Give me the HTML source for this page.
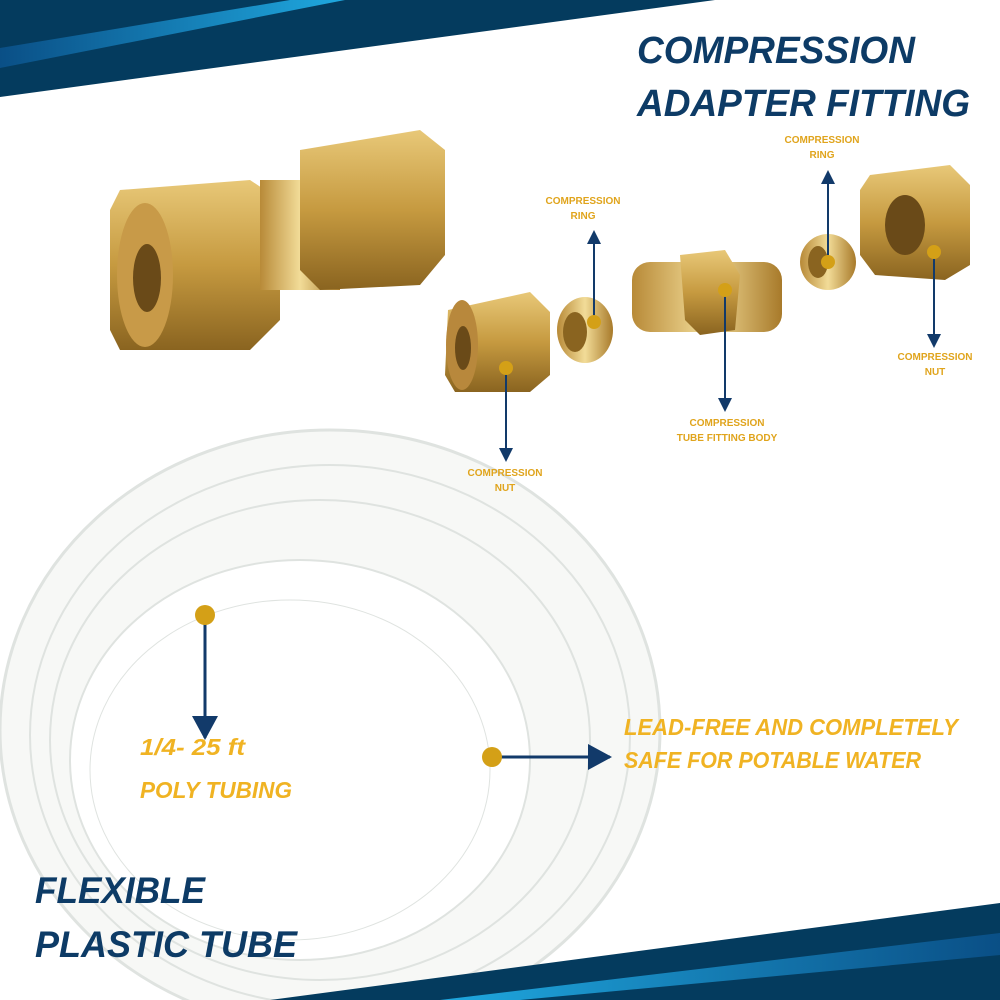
<!DOCTYPE html>
<html><head><meta charset="utf-8"><style>
html,body{margin:0;padding:0;background:#fff}
svg{display:block}
.t{font-family:"Liberation Sans",sans-serif;font-style:italic;font-weight:bold}
.s{font-family:"Liberation Sans",sans-serif;font-weight:bold;font-size:10px;fill:#e0a41c}
</style></head><body>
<svg width="1000" height="1000" viewBox="0 0 1000 1000" xmlns="http://www.w3.org/2000/svg">
<defs>
<linearGradient id="st" x1="0" x2="1" y1="0" y2="0"><stop offset="0" stop-color="#0a4f86"/><stop offset="1" stop-color="#1fa8df"/></linearGradient>
<linearGradient id="st2" x1="1" x2="0" y1="0" y2="0"><stop offset="0" stop-color="#0a4f86"/><stop offset="1" stop-color="#1fa8df"/></linearGradient>
<linearGradient id="br" x1="0" x2="0" y1="0" y2="1"><stop offset="0" stop-color="#e8c878"/><stop offset="0.5" stop-color="#c69a40"/><stop offset="1" stop-color="#8a6420"/></linearGradient>
<linearGradient id="br2" x1="0" x2="1" y1="0" y2="0"><stop offset="0" stop-color="#b88a38"/><stop offset="0.5" stop-color="#f2dc98"/><stop offset="1" stop-color="#a87a2a"/></linearGradient>
<marker id="ar" markerUnits="userSpaceOnUse" markerWidth="14" markerHeight="14" refX="12" refY="7" orient="auto"><path d="M0,0 L14,7 L0,14 z" fill="#123a6a"/></marker>
<marker id="ar2" markerUnits="userSpaceOnUse" markerWidth="24" markerHeight="26" refX="22" refY="13" orient="auto"><path d="M0,0 L24,13 L0,26 z" fill="#123a6a"/></marker>
</defs>
<polygon points="0,0 715,0 0,97" fill="#043b5e"/>
<polygon points="0,48 290,0 345,0 0,68" fill="url(#st)"/>
<g fill="none" stroke="#dfe3e0">
<ellipse cx="330" cy="730" rx="330" ry="300" fill="#f7f8f6" stroke-width="3"/>
<ellipse cx="330" cy="735" rx="300" ry="270" stroke-width="2"/>
<ellipse cx="320" cy="740" rx="270" ry="240" stroke-width="2"/>
<ellipse cx="300" cy="760" rx="230" ry="200" fill="#fff" stroke-width="2"/>
<ellipse cx="290" cy="770" rx="200" ry="170" fill="#fff" stroke-width="1"/>
</g>
<polygon points="1000,903 1000,1000 270,1000" fill="#043b5e"/>
<polygon points="1000,933 1000,955 520,1000 440,1000" fill="url(#st2)"/>
<g>
<polygon points="120,190 250,180 280,200 280,320 250,350 120,350 110,330 110,210" fill="url(#br)"/>
<ellipse cx="145" cy="275" rx="28" ry="72" fill="#c89a48"/>
<ellipse cx="147" cy="278" rx="14" ry="34" fill="#6a4a18"/>
<rect x="260" y="180" width="80" height="110" fill="url(#br2)"/>
<polygon points="300,150 420,130 445,150 445,255 420,285 320,290 300,270" fill="url(#br)"/>
</g>
<polygon points="448,310 530,292 550,312 550,375 530,392 455,392 445,375" fill="url(#br)"/>
<ellipse cx="462" cy="345" rx="16" ry="45" fill="#b8883c"/><ellipse cx="463" cy="348" rx="8" ry="22" fill="#6a4a18"/>
<ellipse cx="585" cy="330" rx="28" ry="33" fill="url(#br2)"/><ellipse cx="575" cy="332" rx="12" ry="20" fill="#8a6420"/>
<rect x="632" y="262" width="150" height="70" rx="18" fill="url(#br2)"/>
<polygon points="680,255 725,250 740,275 735,330 700,335 685,320" fill="url(#br)"/>
<ellipse cx="828" cy="262" rx="28" ry="28" fill="url(#br2)"/><ellipse cx="818" cy="262" rx="10" ry="16" fill="#8a6420"/>
<polygon points="870,175 950,165 970,185 970,265 945,280 875,275 860,255 860,190" fill="url(#br)"/>
<ellipse cx="905" cy="225" rx="20" ry="30" fill="#6a4a18"/>
<g stroke="#123a6a" stroke-width="2" fill="none">
<line x1="506" y1="368" x2="506" y2="460" marker-end="url(#ar)"/>
<line x1="594" y1="322" x2="594" y2="232" marker-end="url(#ar)"/>
<line x1="725" y1="290" x2="725" y2="410" marker-end="url(#ar)"/>
<line x1="828" y1="262" x2="828" y2="172" marker-end="url(#ar)"/>
<line x1="934" y1="252" x2="934" y2="346" marker-end="url(#ar)"/>
<line x1="205" y1="615" x2="205" y2="738" stroke-width="3" marker-end="url(#ar2)"/>
<line x1="492" y1="757" x2="610" y2="757" stroke-width="3" marker-end="url(#ar2)"/>
</g>
<g fill="#d4a017">
<circle cx="506" cy="368" r="7"/><circle cx="594" cy="322" r="7"/><circle cx="725" cy="290" r="7"/>
<circle cx="828" cy="262" r="7"/><circle cx="934" cy="252" r="7"/>
<circle cx="205" cy="615" r="10"/><circle cx="492" cy="757" r="10"/>
</g>
<g class="t" fill="#0d3b66">
<text x="637" y="63" font-size="38" textLength="278" lengthAdjust="spacingAndGlyphs">COMPRESSION</text>
<text x="637" y="116" font-size="38" textLength="333" lengthAdjust="spacingAndGlyphs">ADAPTER FITTING</text>
<text x="35" y="903" font-size="37" textLength="170" lengthAdjust="spacingAndGlyphs">FLEXIBLE</text>
<text x="35" y="957" font-size="37" textLength="262" lengthAdjust="spacingAndGlyphs">PLASTIC TUBE</text>
</g>
<g class="t" fill="#f0b323" font-size="23">
<text x="624" y="735" textLength="334" lengthAdjust="spacingAndGlyphs">LEAD-FREE AND COMPLETELY</text>
<text x="624" y="768" textLength="297" lengthAdjust="spacingAndGlyphs">SAFE FOR POTABLE WATER</text>
<text x="140" y="755" textLength="105" lengthAdjust="spacingAndGlyphs">1/4- 25 ft</text>
<text x="140" y="798" textLength="152" lengthAdjust="spacingAndGlyphs">POLY TUBING</text>
</g>
<g class="s" text-anchor="middle">
<text x="583" y="204">COMPRESSION</text><text x="583" y="219">RING</text>
<text x="822" y="143">COMPRESSION</text><text x="822" y="158">RING</text>
<text x="505" y="476">COMPRESSION</text><text x="505" y="491">NUT</text>
<text x="727" y="426">COMPRESSION</text><text x="727" y="441">TUBE FITTING BODY</text>
<text x="935" y="360">COMPRESSION</text><text x="935" y="375">NUT</text>
</g>
</svg>
</body></html>
